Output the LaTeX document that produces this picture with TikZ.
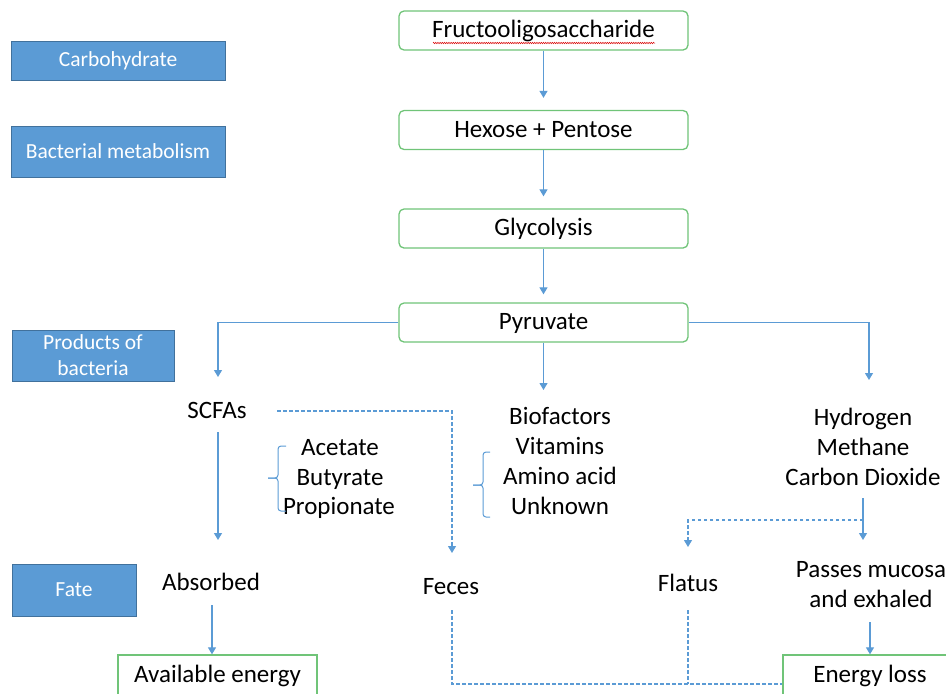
\documentclass[tikz,border=0pt]{standalone}
\usepackage{fontspec}
\setmainfont{Carlito}
\usetikzlibrary{arrows.meta,decorations.pathmorphing}
\definecolor{lblue}{RGB}{91,155,213}
\definecolor{dblue}{RGB}{65,113,156}
\definecolor{gbox}{RGB}{112,196,120}
\definecolor{arr}{RGB}{91,155,213}
\begin{document}
\begin{tikzpicture}[x=1pt,y=-1pt,
  gstep/.style={draw=gbox, line width=1.3pt, rounded corners=5pt, fill=white,
    minimum width=289pt, minimum height=39pt, inner sep=0pt,
    text height=17pt, text depth=3pt,
    font=\fontsize{25}{30}\selectfont},
  gend/.style={draw=gbox, line width=1.3pt, fill=white, minimum height=40pt,
    inner sep=0pt, text height=17pt, text depth=3pt,
    font=\fontsize{25}{30}\selectfont},
  lab/.style={draw=dblue, fill=lblue, text=white, line width=0.7pt, inner sep=0pt,
    align=center, font=\fontsize{21.5}{26}\selectfont},
  txt/.style={inner sep=0pt, text height=17pt, text depth=3pt,
    font=\fontsize{25}{30}\selectfont},
  conn/.style={draw=arr, line width=1.1pt, -{Triangle[width=8pt,length=7pt]}},
  dconn/.style={draw=arr, line width=1.1pt, dash pattern=on 3.5pt off 2.5pt},
  dconna/.style={dconn, -{Triangle[width=8pt,length=7pt]}},
  brk/.style={draw=arr, line width=1pt}
]
\useasboundingbox (0,0) rectangle (946,694);

% left category labels
\node[lab, minimum width=214pt, minimum height=39pt] (lcarb) at (118,60.5) {Carbohydrate};
\node[lab, minimum width=214pt, minimum height=51pt] (lmet) at (118,151.5) {Bacterial metabolism};
\node[lab, minimum width=162pt, minimum height=51pt] (lprod) at (93,355.5) {Products of\\bacteria};
\node[lab, minimum width=124pt, minimum height=52pt] (lfate) at (74,590) {Fate};

% main chain
\node[gstep] (fos) at (543.5,30.5) {Fructooligosaccharide};
\draw[red!85!black, line width=0.5pt, decorate,
  decoration={zigzag, segment length=2.2pt, amplitude=0.7pt}] (433,43) -- (655,43);
\node[gstep] (hex) at (543.5,130) {Hexose + Pentose};
\node[gstep] (gly) at (543.5,228.5) {Glycolysis};
\node[gstep] (pyr) at (543.5,322.5) {Pyruvate};

\draw[conn, shorten >=12pt] (fos) -- (hex);
\draw[conn, shorten >=12pt] (hex) -- (gly);
\draw[conn, shorten >=8pt] (gly) -- (pyr);

% products
\node[txt] (scfa) at (217,411) {SCFAs};
\node[txt] (acet) at (340,448) {Acetate};
\node[txt] (buty) at (340,478) {Butyrate};
\node[txt] (prop) at (339,507) {Propionate};

\node[txt] (biof) at (560,417) {Biofactors};
\node[txt] (vita) at (560,447) {Vitamins};
\node[txt] (amino) at (560,477) {Amino acid};
\node[txt] (unkn) at (560,507) {Unknown};

\node[txt] (hydr) at (863,418) {Hydrogen};
\node[txt] (meth) at (863,448) {Methane};
\node[txt] (cdio) at (863,478) {Carbon Dioxide};

\coordinate (scfaIn) at (218,377);
\coordinate (bioIn) at (543.5,390);
\coordinate (gasIn) at (869,380);
\draw[conn] (pyr.west) -| (scfaIn);
\draw[conn] (pyr.south) -- (bioIn);
\draw[conn] (pyr.east) -| (gasIn);

% brackets
\draw[brk, rounded corners=3pt] (286,446) -- (278,446) -- (278,478) -- (268,478);
\draw[brk, rounded corners=3pt] (268,478) -- (278,478) -- (278,511) -- (286,511);
\draw[brk, rounded corners=3pt] (490,452) -- (483,452) -- (483,485) -- (473,485);
\draw[brk, rounded corners=3pt] (473,485) -- (483,485) -- (483,517) -- (490,517);

% fate
\node[txt] (abs) at (211,583) {Absorbed};
\node[txt] (fec) at (451,587) {Feces};
\node[txt] (fla) at (688,584) {Flatus};
\node[txt] (pas1) at (871,570) {Passes mucosa};
\node[txt] (pas2) at (871,600) {and exhaled};

\node[gend, minimum width=199pt] (avail) at (217.5,675) {Available energy};
\node[gend, minimum width=174pt] (eloss) at (870,675) {Energy loss};

% SCFA connectors
\coordinate (scfaTop) at (218,432);
\coordinate (absIn) at (218,540);
\draw[conn] (scfaTop) -- (absIn);
\coordinate (scfaR) at (277,411);
\coordinate (fecIn) at (452,553);
\draw[dconna] (scfaR) -| (fecIn);

\coordinate (absBot) at (212,605);
\draw[conn] (absBot) -- (avail.north -| absBot);

% gas connectors
\coordinate (gasTop) at (863,498);
\coordinate (pasIn) at (863,540);
\draw[conn] (gasTop) -- (pasIn);
\coordinate (gasMid) at (863,520);
\coordinate (flaIn) at (688,547);
\draw[dconna] (gasMid) -| (flaIn);

\coordinate (pasBot) at (870,622);
\draw[conn] (pasBot) -- (eloss.north -| pasBot);

% losses to energy loss
\coordinate (fecBot) at (452,610);
\coordinate (flaBot) at (688,610);
\draw[dconn] (fecBot) |- (eloss.west |- 0,684);
\draw[dconn] (flaBot) -- (688,684);
\end{tikzpicture}
\end{document}
